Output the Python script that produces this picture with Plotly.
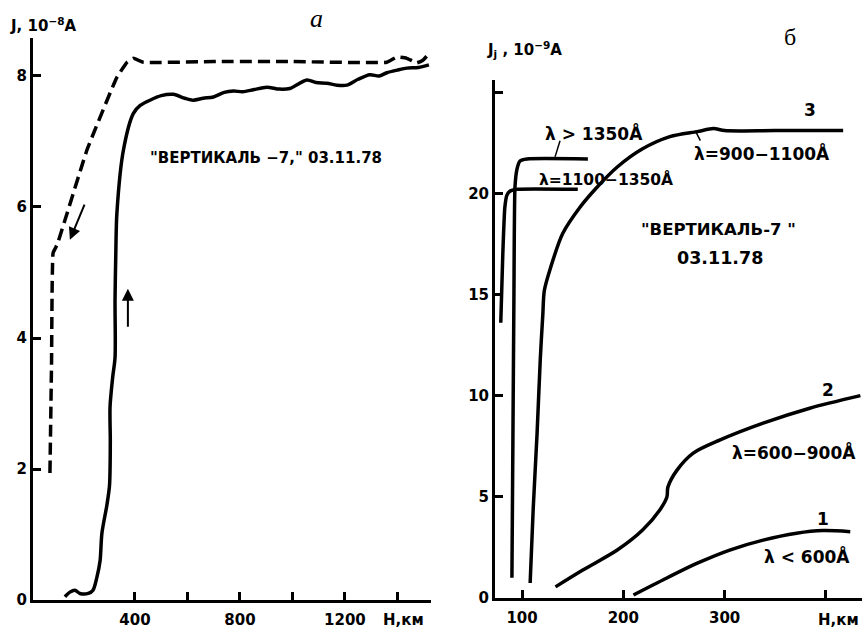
import plotly.graph_objects as go

# ---------------- Panel а (left) ----------------
desc_h = [76, 82, 88, 103, 217, 331, 370, 394, 432, 700, 1000, 1360, 1398, 1436, 1474, 1497, 1520]
desc_j = [1.94, 3.6, 5.3, 5.42, 6.87, 7.98, 8.21, 8.27, 8.21, 8.22, 8.22, 8.21, 8.29, 8.27, 8.2, 8.24, 8.34]

asc_h = [133, 152, 171, 190, 222, 240, 255, 267, 274, 293, 303, 306, 305, 315, 324, 324, 327, 331, 356, 394,
         420, 457, 500, 546, 590, 622, 660, 699, 740, 775, 810, 851, 902, 950, 990, 1055, 1090, 1131, 1170,
         1207, 1250, 1295, 1330, 1360, 1400, 1436, 1480, 1520]
asc_j = [0.05, 0.12, 0.15, 0.1, 0.1, 0.15, 0.35, 0.6, 1.02, 1.45, 1.75, 2.4, 2.95, 3.4, 3.7, 4.58, 5.3, 5.9, 6.87, 7.43,
         7.55, 7.63, 7.7, 7.72, 7.66, 7.63, 7.66, 7.68, 7.75, 7.77, 7.76, 7.79, 7.83, 7.8, 7.81, 7.94, 7.9, 7.89, 7.86,
         7.86, 7.95, 8.02, 8.0, 8.05, 8.09, 8.12, 8.13, 8.17]

left_xticks = [400, 800, 1200]
left_xminor = [600, 1000, 1400]
left_yticks = [0, 2, 4, 6, 8]

# ---------------- Panel б (right) ----------------
gt1350_h = [90, 91, 92, 93, 95, 98, 105, 165]
gt1350_j = [1.0, 8.0, 15.0, 20.3, 21.2, 21.6, 21.7, 21.7]

r1100_h = [79, 81, 83, 85, 88, 95, 155]
r1100_j = [13.6, 17.0, 19.3, 19.9, 20.1, 20.2, 20.2]

c3_h = [108, 111, 114.8, 118, 120.5, 122, 128, 140, 157, 174, 194, 219, 246, 273, 289, 300, 350, 417]
c3_j = [0.74, 4.4, 8.1, 11.8, 14.0, 15.2, 16.3, 18.0, 19.3, 20.3, 21.3, 22.2, 22.8, 23.05, 23.2, 23.1, 23.1, 23.1]

c2_h = [133, 160, 194, 219, 236, 243, 244, 253, 269, 295, 338, 384, 434]
c2_j = [0.55, 1.38, 2.37, 3.36, 4.35, 4.99, 5.48, 6.32, 7.16, 7.8, 8.64, 9.38, 10.0]

c1_h = [210, 239, 273, 305, 338, 371, 397, 424]
c1_j = [0.15, 0.89, 1.72, 2.37, 2.86, 3.2, 3.33, 3.28]

right_xticks = [100, 200, 300]
right_xminor = [400]
right_yticks = [0, 5, 10, 15, 20]
right_yminor = [25]

FONT = "DejaVu Sans"
LW = 3.5

fig = go.Figure()

def line(x, y, xa, ya, dash="solid", smooth=0.6):
    fig.add_trace(go.Scatter(x=x, y=y, xaxis=xa, yaxis=ya, mode="lines",
                             line=dict(color="black", width=LW, dash=dash, shape="spline", smoothing=smooth),
                             showlegend=False, hoverinfo="skip"))

line(desc_h, desc_j, "x", "y", dash="12px,6px", smooth=0.3)
line(asc_h, asc_j, "x", "y", smooth=0.8)
line(gt1350_h, gt1350_j, "x2", "y2", smooth=0.5)
line(r1100_h, r1100_j, "x2", "y2", smooth=0.5)
line(c3_h, c3_j, "x2", "y2", smooth=0.8)
line(c2_h, c2_j, "x2", "y2", smooth=0.8)
line(c1_h, c1_j, "x2", "y2", smooth=0.8)

W, H = 862, 634
def px(x, y):
    return x / W, (H - y) / H

axis_common = dict(showline=True, linewidth=3, linecolor="black", ticks="inside", ticklen=8,
                   tickwidth=3, tickcolor="black", showgrid=False, zeroline=False, automargin=False,
                   tickfont=dict(family=FONT, size=15, color="black", weight="bold"), fixedrange=True)

def minor(vals):
    return dict(tickvals=vals, ticks="inside", ticklen=8, tickwidth=3, tickcolor="black", showgrid=False)

fig.update_layout(
    width=W, height=H, margin=dict(l=0, r=0, t=0, b=0, pad=0),
    paper_bgcolor="white", plot_bgcolor="white",
    font=dict(family=FONT, color="black"),
    xaxis=dict(domain=[33 / W, 431 / W], range=[11.4, 1528], tickvals=left_xticks, minor=minor(left_xminor),
               anchor="y", ticklabelstandoff=4, **axis_common),
    yaxis=dict(domain=[(H - 600) / H, (H - 38) / H], range=[0, 8.58], tickvals=left_yticks,
               anchor="x", **axis_common),
    xaxis2=dict(domain=[495 / W, 1.0], range=[73.3, 435.6], tickvals=right_xticks, minor=minor(right_xminor),
                anchor="y2", ticklabelstandoff=4, **axis_common),
    yaxis2=dict(domain=[(H - 598) / H, (H - 80) / H], range=[0, 25.6], tickvals=right_yticks,
                minor=minor(right_yminor), anchor="x2", **axis_common),
)

ann = []
def text(t, x, y, size=15, xref="paper", yref="paper", xanchor="center", family=FONT):
    ann.append(dict(text=t, x=x, y=y, xref=xref, yref=yref, showarrow=False, xanchor=xanchor,
                    yanchor="middle", font=dict(family=family, size=size, color="black")))

def ptext(t, x, y, size=15, xanchor="center", family=FONT):
    a, b = px(x, y)
    text(t, a, b, size=size, xanchor=xanchor, family=family)

# left panel texts
ptext("<i>а</i>", 316, 18, size=26, family="Liberation Serif")
ptext("<b>J, 10<sup>−8</sup>A</b>", 8, 25, size=15, xanchor="left")
text("<b>\"ВЕРТИКАЛЬ −7,\" 03.11.78</b>", 899, 6.75, size=15, xref="x", yref="y")
ptext("<b>H,км</b>", 403, 620, size=15)
# right panel texts
ptext("б", 790, 37, size=24, family="Liberation Serif")
ptext("<b>J<sub>j</sub> , 10<sup>−9</sup>A</b>", 485, 50, size=15, xanchor="left")
text("<b>3</b>", 384, 24.1, size=17, xref="x2", yref="y2")
text("<b>λ=900−1100Å</b>", 337, 22.0, size=17, xref="x2", yref="y2")
text("<b>λ > 1350Å</b>", 171, 23.0, size=17, xref="x2", yref="y2")
text("<b>λ=1100−1350Å</b>", 183, 20.7, size=15.5, xref="x2", yref="y2")
text("<b>\"ВЕРТИКАЛЬ-7 \"</b>", 294, 18.2, size=16.5, xref="x2", yref="y2")
text("<b>03.11.78</b>", 295, 16.8, size=17.5, xref="x2", yref="y2")
text("<b>2</b>", 402, 10.3, size=17, xref="x2", yref="y2")
ptext("<b>λ=600−900Å</b>", 858, 452, size=17, xanchor="right")
text("<b>1</b>", 397, 3.9, size=17, xref="x2", yref="y2")
text("<b>λ < 600Å</b>", 381, 2.1, size=17, xref="x2", yref="y2")
ptext("<b>H,км</b>", 861, 620, size=15, xanchor="right")

# arrows
ann.append(dict(x=152, y=5.5, ax=210, ay=6.06, xref="x", yref="y", axref="x", ayref="y",
                showarrow=True, arrowhead=2, arrowsize=1.2, arrowwidth=2, arrowcolor="black", text=""))
ann.append(dict(x=373, y=4.75, ax=373, ay=4.15, xref="x", yref="y", axref="x", ayref="y",
                showarrow=True, arrowhead=2, arrowsize=1.2, arrowwidth=2, arrowcolor="black", text=""))
fig.update_layout(annotations=ann)

# leader lines
fig.add_shape(type="line", xref="x2", yref="y2", x0=137.5, y0=22.6, x1=132.6, y1=21.8,
              line=dict(color="black", width=1.5))
fig.add_shape(type="line", xref="x2", yref="y2", x0=271, y0=23.1, x1=276, y1=22.6,
              line=dict(color="black", width=1.5))

fig.write_html("out.html", config={"displayModeBar": False},
               post_script="document.body.style.margin='0';")
